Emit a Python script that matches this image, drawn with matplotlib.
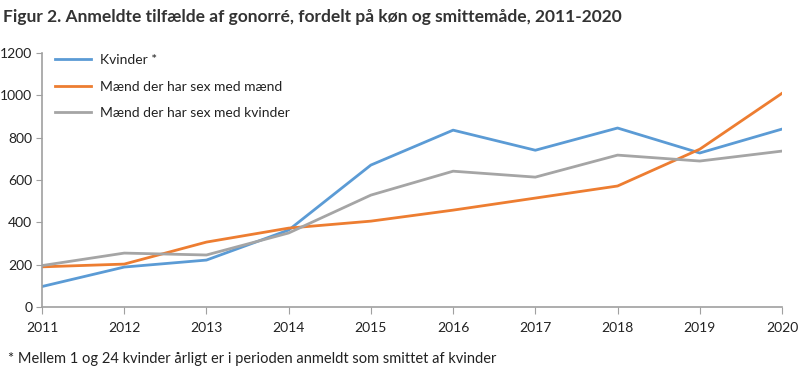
import matplotlib.pyplot as plt

plt.rcParams['font.family'] = ['Lato', 'DejaVu Sans']

years = [2011, 2012, 2013, 2014, 2015, 2016, 2017, 2018, 2019, 2020]
kvinder = [97, 189, 222, 364, 671, 836, 741, 846, 728, 841]
msm = [190, 203, 307, 373, 406, 458, 515, 572, 746, 1010]
msk = [196, 255, 246, 350, 529, 642, 614, 718, 690, 737]

labels = ['Kvinder *', 'Mænd der har sex med mænd', 'Mænd der har sex med kvinder']
colors = ['#5B9BD5', '#ED7D31', '#A5A5A5']

fig = plt.figure(figsize=(8, 3.74), dpi=100)
ax = fig.add_axes([0.0525, 0.179, 0.925, 0.679])

for vals, lab, col in zip([kvinder, msm, msk], labels, colors):
    ax.plot(years, vals, color=col, lw=2, label=lab)

ax.set_xlim(2011, 2020)
ax.set_ylim(0, 1200)
ax.set_xticks(years)
ax.set_yticks(range(0, 1201, 200))

for s in ['top', 'right']:
    ax.spines[s].set_visible(False)
for s in ['left', 'bottom']:
    ax.spines[s].set_color('#A0A0A0')
    ax.spines[s].set_linewidth(1.2)
ax.tick_params(axis='both', colors='#A0A0A0', labelcolor='#222222', labelsize=10)
ax.tick_params(axis='x', pad=6, length=5)
ax.tick_params(axis='y', pad=3, length=4)

ax.legend(loc='upper left', bbox_to_anchor=(0.0, 1.045), frameon=False, fontsize=10,
          handlelength=2.6, handletextpad=0.7, labelspacing=1.05, labelcolor='#222222')

fig.text(0.004, 0.955, 'Figur 2. Anmeldte tilfælde af gonorré, fordelt på køn og smittemåde, 2011-2020',
         fontsize=12.5, fontweight='bold', color='#333333', va='center')
fig.text(0.01, 0.04, '* Mellem 1 og 24 kvinder årligt er i perioden anmeldt som smittet af kvinder',
         fontsize=10.5, color='#222222', va='center')

fig.savefig('out.png', dpi=100)
